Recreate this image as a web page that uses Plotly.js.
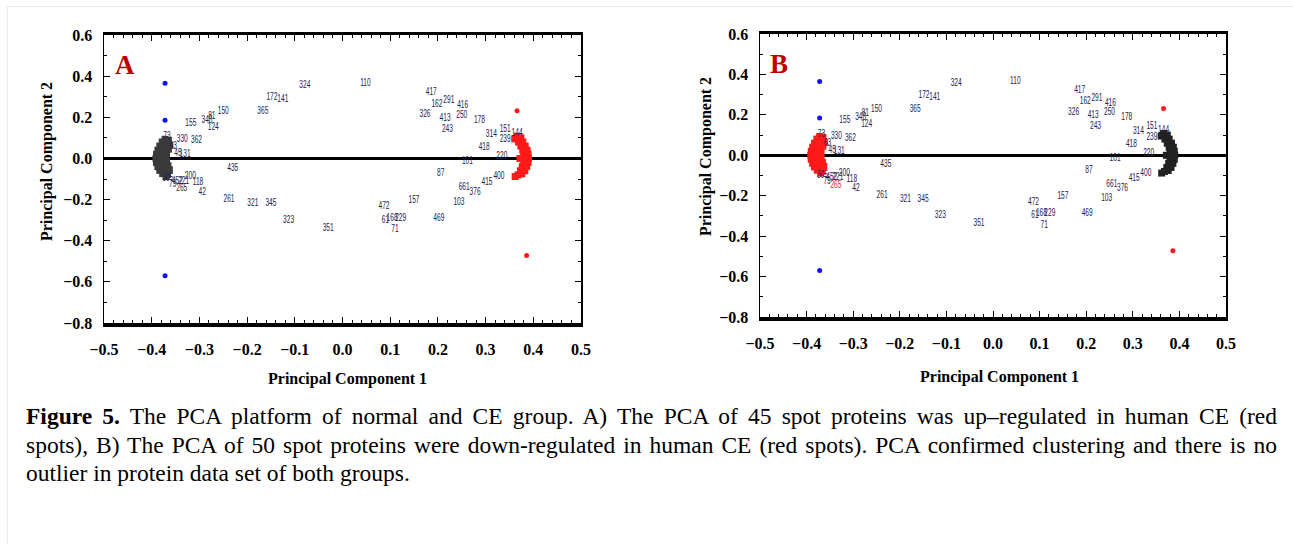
<!DOCTYPE html>
<html>
<head>
<meta charset="utf-8">
<script src="https://cdn.plot.ly/plotly-3.0.1.min.js"></script>
<style>
  html, body { margin: 0; padding: 0; background: #ffffff; }
  #wrap { position: relative; width: 1293px; height: 544px; overflow: hidden; background: #fff; }
  #frame { position: absolute; left: 7px; top: 6px; width: 1300px; height: 600px;
           border-left: 1px solid #ececec; border-top: 1px solid #ececec; }
  #chart { position: absolute; left: 0; top: 0; width: 1293px; height: 400px; }
  #caption { position: absolute; left: 26px; top: 402px; width: 1251px;
             font-family: "Liberation Serif", "Times New Roman", serif; font-size: 23.5px;
             line-height: 28.5px; color: #000; }
  #caption .j { text-align: justify; text-align-last: justify; display: block; white-space: nowrap; }
  #caption .l { text-align: left; display: block; white-space: nowrap; }
</style>
</head>
<body>
<div id="wrap">
  <div id="frame"></div>
  <div id="chart"></div>
  <div id="caption">
    <span class="j"><b>Figure 5.</b> The PCA platform of normal and CE group. A) The PCA of 45 spot proteins was up–regulated in human CE (red</span>
    <span class="j">spots), B) The PCA of 50 spot proteins were down-regulated in human CE (red spots). PCA confirmed clustering and there is no</span>
    <span class="l">outlier in protein data set of both groups.</span>
  </div>
</div>
<script>
// ---- Data (loadings of labelled spots, same in both panels) ----
const spotLabels = ["324","172","141","365","150","348","81","124","155","330","362","73","63","45","131",
  "435","305","79","452","221","265","200","118","42","261","321","345","323","351",
  "472","61","168","229","71","469","157","103",
  "110","417","162","291","326","416","250","413","243","178","314","418","151","144","239",
  "220","101","87","415","661","376","400"];
const spotPC1 = [-0.079,-0.148,-0.125,-0.167,-0.250,-0.284,-0.274,-0.271,-0.318,-0.336,-0.306,-0.368,-0.355,-0.345,-0.330,
  -0.230,-0.366,-0.356,-0.346,-0.333,-0.337,-0.319,-0.303,-0.294,-0.238,-0.188,-0.150,-0.113,-0.030,
  0.087,0.090,0.104,0.122,0.110,0.202,0.150,0.244,
  0.048,0.186,0.198,0.223,0.173,0.252,0.250,0.215,0.220,0.287,0.312,0.297,0.341,0.366,0.341,
  0.334,0.262,0.206,0.303,0.255,0.278,0.328];
const spotPC2 = [0.355,0.297,0.287,0.228,0.228,0.185,0.205,0.150,0.172,0.092,0.085,0.105,0.058,0.025,0.020,
  -0.047,-0.100,-0.128,-0.112,-0.110,-0.148,-0.089,-0.119,-0.166,-0.200,-0.220,-0.220,-0.300,-0.340,
  -0.233,-0.300,-0.290,-0.290,-0.345,-0.290,-0.204,-0.216,
  0.366,0.321,0.264,0.282,0.212,0.256,0.210,0.195,0.142,0.185,0.116,0.052,0.143,0.122,0.090,
  0.010,-0.015,-0.075,-0.117,-0.143,-0.166,-0.088];

// dense clusters of overlapping spots
const leftClusterPC1 = [-0.372,-0.365,-0.378,-0.368,-0.383,-0.372,-0.362,-0.387,-0.376,-0.365,-0.390,-0.380,-0.369,
  -0.391,-0.381,-0.370,-0.390,-0.380,-0.369,-0.387,-0.376,-0.366,-0.383,-0.372,-0.363,-0.377,-0.367,-0.370];
const leftClusterPC2 = [0.093,0.088,0.080,0.075,0.060,0.060,0.064,0.040,0.040,0.045,0.020,0.020,0.025,
  0.000,0.000,0.005,-0.020,-0.020,-0.015,-0.040,-0.040,-0.035,-0.058,-0.058,-0.055,-0.074,-0.078,-0.088];
const rightClusterPC1 = [0.366,0.374,0.361,0.378,0.369,0.383,0.374,0.387,0.378,0.389,0.380,0.390,0.381,0.372,
  0.389,0.380,0.386,0.377,0.382,0.373,0.376,0.368,0.362];
const rightClusterPC2 = [0.108,0.100,0.095,0.080,0.080,0.060,0.060,0.040,0.040,0.020,0.020,0.000,0.000,0.000,
  -0.020,-0.020,-0.040,-0.040,-0.060,-0.060,-0.075,-0.080,-0.088];

// sample scores
const blueScorePC1 = [-0.372,-0.372,-0.372];
const blueScorePC2 = [0.365,0.185,-0.570];
const redScorePC1 = [0.366,0.386];
const redScorePC2 = [0.232,-0.472];

// labels drawn in red in panel B
const panelBRedLabels = ["265"];

const panelLetters = ["A","B"];
const xTickVals = [-0.5,-0.4,-0.3,-0.2,-0.1,0.0,0.1,0.2,0.3,0.4,0.5];
const yTickVals = [-0.8,-0.6,-0.4,-0.2,0.0,0.2,0.4,0.6];
const xTitle = "Principal Component 1";
const yTitle = "Principal Component 2";

// ---- figure ----
const W = 1293, H = 400;
const LABEL_FONT = "Liberation Sans, Arial, sans-serif";
const DARK = "#3a3a3a", RED = "#ff1a1a", NAVY = "#22224f";

function panelTraces(xa, ya, leftCol, rightCol, redSet) {
  const colors = spotLabels.map(l => redSet.includes(l) ? RED : NAVY);
  return [
    {x: leftClusterPC1, y: leftClusterPC2, xaxis: xa, yaxis: ya, type: "scatter", mode: "markers",
     marker: {symbol: "square", size: 7, color: leftCol, line: {width: 0}}, hoverinfo: "skip"},
    {x: rightClusterPC1, y: rightClusterPC2, xaxis: xa, yaxis: ya, type: "scatter", mode: "markers",
     marker: {symbol: "square", size: 7, color: rightCol, line: {width: 0}}, hoverinfo: "skip"},
    {x: spotPC1, y: spotPC2, text: spotLabels, xaxis: xa, yaxis: ya, type: "scatter", mode: "text",
     textposition: "middle center", textfont: {family: LABEL_FONT, size: 10, color: colors}},
    {x: blueScorePC1, y: blueScorePC2, xaxis: xa, yaxis: ya, type: "scatter", mode: "markers",
     marker: {symbol: "circle", size: 5, color: "#1010ff"}},
    {x: redScorePC1, y: redScorePC2, xaxis: xa, yaxis: ya, type: "scatter", mode: "markers",
     marker: {symbol: "circle", size: 5, color: RED}}
  ];
}

const traces = [].concat(
  panelTraces("x", "y", DARK, RED, []),
  panelTraces("x2", "y2", RED, "#222222", panelBRedLabels)
);

const tickFont = {family: "Liberation Serif, Times New Roman, serif", size: 16, color: "#000", weight: "bold"};
function xAxis(domain, anchor) {
  return {domain: domain, anchor: anchor, range: [-0.5, 0.5], tickvals: xTickVals, tickformat: ".1f",
    ticks: "inside", ticklen: 6, tickwidth: 1, tickcolor: "#000", mirror: "allticks",
    showline: true, linewidth: 3.5, linecolor: "#000", zeroline: false, showgrid: false,
    minor: {dtick: 0.02, ticks: "inside", ticklen: 3, tickcolor: "#000", tickwidth: 1, showgrid: false},
    tickfont: tickFont, ticklabelstandoff: 9, fixedrange: true};
}
function yAxis(domain, anchor) {
  return {domain: domain, anchor: anchor, range: [-0.8, 0.6], tickvals: yTickVals, tickformat: ".1f",
    ticks: "inside", ticklen: 6, tickwidth: 1, tickcolor: "#000", mirror: "allticks",
    showline: true, linewidth: 1.5, linecolor: "#000", zeroline: true, zerolinewidth: 3.5,
    zerolinecolor: "#000", showgrid: false,
    minor: {dtick: 0.1, ticks: "inside", ticklen: 3, tickcolor: "#000", tickwidth: 1, showgrid: false},
    tickfont: tickFont, ticklabelstandoff: 7, fixedrange: true};
}

const titleFont = {family: "Liberation Serif, Times New Roman, serif", size: 16, color: "#000", weight: "bold"};
const letterFont = {family: "Liberation Serif, Times New Roman, serif", size: 27, color: "#c00000", weight: "bold"};

const layout = {
  width: W, height: H, margin: {l: 0, r: 0, t: 0, b: 0},
  paper_bgcolor: "rgba(0,0,0,0)", plot_bgcolor: "#fff", showlegend: false,
  xaxis: xAxis([104 / W, 581 / W], "y"),
  yaxis: yAxis([1 - 323 / H, 1 - 35 / H], "x"),
  xaxis2: xAxis([760 / W, 1226 / W], "y2"),
  yaxis2: yAxis([1 - 317 / H, 1 - 34 / H], "x2"),
  annotations: [
    {text: panelLetters[0], xref: "x domain", yref: "y domain", x: 0.018, y: 0.895, xanchor: "left", yanchor: "middle", showarrow: false, font: letterFont},
    {text: panelLetters[1], xref: "x2 domain", yref: "y2 domain", x: 0.018, y: 0.895, xanchor: "left", yanchor: "middle", showarrow: false, font: letterFont},
    {text: xTitle, xref: "paper", yref: "paper", x: 347 / W, y: 1 - 379 / H, xanchor: "center", yanchor: "middle", showarrow: false, font: titleFont},
    {text: xTitle, xref: "paper", yref: "paper", x: 999 / W, y: 1 - 377 / H, xanchor: "center", yanchor: "middle", showarrow: false, font: titleFont},
    {text: yTitle, xref: "paper", yref: "paper", x: 47 / W, y: 1 - 162 / H, xanchor: "center", yanchor: "middle", textangle: -90, showarrow: false, font: titleFont},
    {text: yTitle, xref: "paper", yref: "paper", x: 706 / W, y: 1 - 157 / H, xanchor: "center", yanchor: "middle", textangle: -90, showarrow: false, font: titleFont}
  ]
};

Plotly.newPlot("chart", traces, layout, {displayModeBar: false, staticPlot: true}).then(function (gd) {
  // condense the tiny spot-number labels (narrow, tall glyphs as in the original)
  gd.querySelectorAll(".textpoint text").forEach(function (t) {
    const x = parseFloat(t.getAttribute("x")) || 0;
    const y = parseFloat(t.getAttribute("y")) || 0;
    t.setAttribute("transform", "translate(" + x + "," + y + ") scale(0.66,1.15) translate(" + (-x) + "," + (-y) + ")");
  });
});
</script>
</body>
</html>
